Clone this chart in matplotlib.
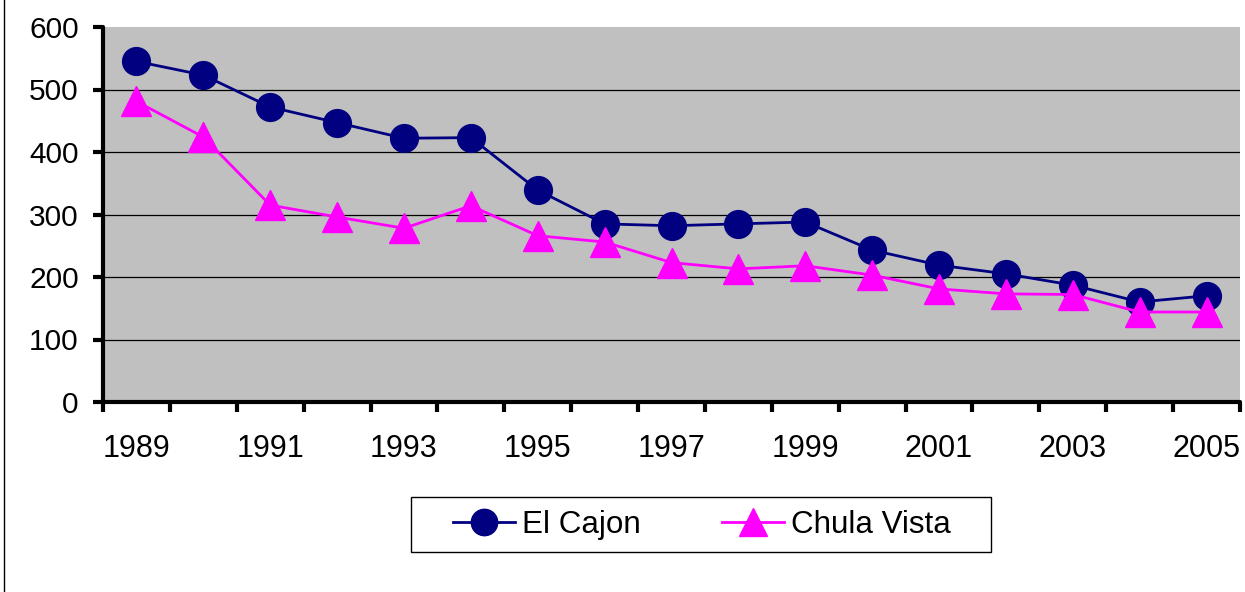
import matplotlib
matplotlib.use("Agg")
import matplotlib.pyplot as plt
from matplotlib.lines import Line2D
from matplotlib.patches import Rectangle

years = [1989, 1990, 1991, 1992, 1993, 1994, 1995, 1996, 1997, 1998,
         1999, 2000, 2001, 2002, 2003, 2004, 2005]
el_cajon = [545, 523, 472, 447, 422, 423, 339, 285, 282, 285,
            288, 243, 219, 205, 187, 160, 170]
chula_vista = [481, 424, 315, 296, 278, 314, 266, 256, 223, 213,
               218, 203, 181, 173, 172, 144, 144]
yticks = [0, 100, 200, 300, 400, 500, 600]

plt.rcParams['font.family'] = ['Liberation Sans', 'DejaVu Sans']

W, H = 1245, 592
fig = plt.figure(figsize=(W / 100, H / 100), dpi=100)
ax = fig.add_axes([103 / W, (H - 402) / H, (1240 - 103) / W, 375 / H])
ax.set_facecolor('#C0C0C0')

x = list(range(len(years)))
ax.plot(x, el_cajon, color='#000080', lw=2, marker='o', ms=20,
        mfc='#000080', mec='#000080', label='El Cajon', zorder=3)
ax.plot(x, chula_vista, color='#FF00FF', lw=2, marker='^', ms=21,
        mfc='#FF00FF', mec='#FF00FF', label='Chula Vista', zorder=3)

ax.set_ylim(0, 600)
ax.set_xlim(-0.5, len(years) - 0.5)
ax.set_yticks(yticks)
ax.set_yticklabels([str(v) for v in yticks])
for v in yticks[1:-1]:
    ax.axhline(v, color='black', lw=0.9, zorder=1)

# category boundaries as major ticks, labels at centers as minor ticks
ax.set_xticks([i - 0.5 for i in range(len(years) + 1)])
ax.set_xticklabels([])
ax.set_xticks(x[::2], minor=True)
ax.set_xticklabels([str(y) for y in years[::2]], minor=True)
ax.tick_params(axis='x', which='major', direction='out', length=7.5, width=3)
ax.tick_params(axis='x', which='minor', length=0, pad=23, labelsize=22)
ax.tick_params(axis='y', direction='out', length=7.5, width=3, pad=10,
               labelsize=21.5)

for s in ['top', 'right']:
    ax.spines[s].set_visible(False)
for s in ['left', 'bottom']:
    ax.spines[s].set_linewidth(3)
    ax.spines[s].set_capstyle('round')

leg = fig.legend(loc='center', bbox_to_anchor=(702 / W, 1 - 525 / H), ncol=2,
                 fontsize=22.6, frameon=False, handlelength=1.98,
                 columnspacing=2.6, handletextpad=0.22, markerscale=0.95)

fig.add_artist(Rectangle((410.5 / W, 1 - 551.5 / H), (991 - 410.5) / W,
                         55 / H, transform=fig.transFigure, fill=False,
                         edgecolor='black', lw=1))
fig.add_artist(Line2D([4 / W, 4 / W], [0, 1], color='black', lw=1,
                      transform=fig.transFigure))

fig.savefig('out.png', dpi=100)
